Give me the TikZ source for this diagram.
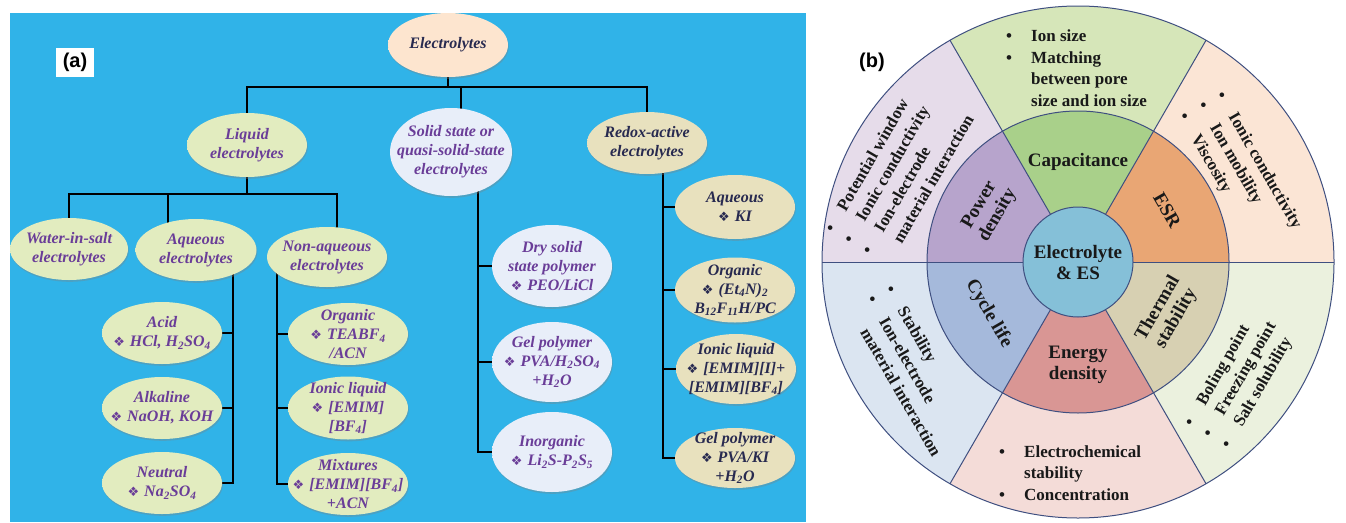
\documentclass[tikz,border=0pt]{standalone}
\usepackage{fontspec}
\setmainfont{Liberation Serif}
\newfontfamily\dejavu{DejaVu Sans}
\newfontfamily\arialf{Liberation Sans}
\usetikzlibrary{shapes.geometric,shadows,calc}
\pgfdeclarelayer{background}
\pgfsetlayers{background,main}
\definecolor{bgblue}{HTML}{30B3E8}
\definecolor{Ein}{HTML}{FDE5CF}\definecolor{Eout}{HTML}{F2B98C}
\definecolor{Gin}{HTML}{E2ECBF}\definecolor{Gout}{HTML}{BFD386}
\definecolor{Bin}{HTML}{E8EEF9}\definecolor{Bout}{HTML}{BCCAE8}
\definecolor{Tin}{HTML}{E8E1BE}\definecolor{Tout}{HTML}{C6B985}
\definecolor{purp}{HTML}{6A3D98}
\definecolor{navy}{HTML}{282A50}
\definecolor{bline}{HTML}{3F4F80}
\definecolor{capO}{HTML}{D6E6B9}\definecolor{capI}{HTML}{A9D08A}
\definecolor{esrO}{HTML}{FBE5D5}\definecolor{esrI}{HTML}{E9A674}
\definecolor{powO}{HTML}{E6DCEA}\definecolor{powI}{HTML}{B7A4CC}
\definecolor{cycO}{HTML}{DBE5F1}\definecolor{cycI}{HTML}{A5B9DB}
\definecolor{eneO}{HTML}{F4DCD8}\definecolor{eneI}{HTML}{D99694}
\definecolor{theO}{HTML}{EBF1DE}\definecolor{theI}{HTML}{D7D0B2}
\definecolor{cenC}{HTML}{85C0D8}
\pgfdeclareradialshading{shE}{\pgfpoint{0bp}{0bp}}{color(0bp)=(Ein); color(28bp)=(Ein); color(50bp)=(Eout)}
\pgfdeclareradialshading{shG}{\pgfpoint{0bp}{0bp}}{color(0bp)=(Gin); color(28bp)=(Gin); color(50bp)=(Gout)}
\pgfdeclareradialshading{shB}{\pgfpoint{0bp}{0bp}}{color(0bp)=(Bin); color(28bp)=(Bin); color(50bp)=(Bout)}
\pgfdeclareradialshading{shT}{\pgfpoint{0bp}{0bp}}{color(0bp)=(Tin); color(28bp)=(Tin); color(50bp)=(Tout)}
\newcommand\dia{{\dejavu\fontsize{13}{13}\selectfont\char"2756}\hspace{5pt}}
\newcommand\bl{\makebox[25pt][l]{\textbullet}}
\newcommand\ind{\hspace*{25pt}}
\newcommand\subs[1]{\textsubscript{#1}}
\tikzset{
  ell/.style={ellipse, inner sep=0pt, draw=none, drop shadow={shadow xshift=0.8pt, shadow yshift=-1.8pt, opacity=0.35}},
  ellG/.style={ell, shading=shG},
  ellB/.style={ell, shading=shB},
  ellT/.style={ell, shading=shT},
  tA/.style={font=\fontsize{16}{19}\selectfont\bfseries\itshape, align=center, inner sep=0pt},
  tP/.style={tA, text=purp},
  tN/.style={tA, text=navy},
  conn/.style={line width=1.6pt, black},
  bl/.style={line width=1pt, bline},
  ringtxt/.style={font=\fontsize{19}{21}\selectfont\bfseries, align=center, inner sep=0pt, text=black!90},
  outtxt/.style={font=\fontsize{17}{21.5}\selectfont\bfseries, align=left, inner sep=0pt, text=black!90, anchor=north west},
}
\begin{document}
\begin{tikzpicture}[x=1pt,y=-1pt]
\useasboundingbox (0,0) rectangle (1346,522);
% ---------- panel (a) ----------
\node[ell, shading=shE, minimum width=120pt, minimum height=64pt] (E) at (448,45) {};
\node[tN] (Et) at (E) {Electrolytes};
\node[ellG, minimum width=120pt, minimum height=64pt] (L) at (247,145) {};
\node[tP] (Lt) at (L) {Liquid\\electrolytes};
\node[ellB, minimum width=122pt, minimum height=88pt] (S) at (451,152) {};
\node[tP] (St) at (S) {Solid state or\\quasi-solid-state\\electrolytes};
\node[ellT, minimum width=120pt, minimum height=62pt] (R) at (647,143) {};
\node[tN] (Rt) at (R) {Redox-active\\electrolytes};
\node[ellG, minimum width=118pt, minimum height=62pt] (W) at (69,249) {};
\node[tP] (Wt) at (W) {Water-in-salt\\electrolytes};
\node[ellG, minimum width=121pt, minimum height=62pt] (Aq) at (196,250) {};
\node[tP] (Aqt) at (Aq) {Aqueous\\electrolytes};
\node[ellG, minimum width=120pt, minimum height=60pt] (NA) at (327,257) {};
\node[tP] (NAt) at (NA) {Non-aqueous\\electrolytes};
\node[ellG, minimum width=120pt, minimum height=62pt] (Acid) at (162,333) {};
\node[tP] (Acidt) at (Acid) {Acid\\\dia HCl, H\subs{2}SO\subs{4}};
\node[ellG, minimum width=120pt, minimum height=62pt] (Alk) at (162,408) {};
\node[tP] (Alkt) at (Alk) {Alkaline\\\dia NaOH, KOH};
\node[ellG, minimum width=120pt, minimum height=62pt] (Neu) at (162,483) {};
\node[tP] (Neut) at (Neu) {Neutral\\\dia Na\subs{2}SO\subs{4}};
\node[ellG, minimum width=120pt, minimum height=62pt] (Org) at (348,334) {};
\node[tP] (Orgt) at (Org) {Organic\\\dia TEABF\subs{4}\\/ACN};
\node[ellG, minimum width=120pt, minimum height=63pt] (IL) at (348,408) {};
\node[tP] (ILt) at (IL) {Ionic liquid\\\dia [EMIM]\\{}[BF\subs{4}]};
\node[ellG, minimum width=120pt, minimum height=62pt] (Mix) at (348,484) {};
\node[tP] (Mixt) at (Mix) {Mixtures\\\dia [EMIM][BF\subs{4}]\\+ACN};
\node[ellB, minimum width=120pt, minimum height=82pt] (Dry) at (552,266) {};
\node[tP] (Dryt) at (Dry) {Dry solid\\state polymer\\\dia PEO/LiCl};
\node[ellB, minimum width=120pt, minimum height=80pt] (Gel) at (552,362) {};
\node[tP] (Gelt) at (Gel) {Gel polymer\\\dia PVA/H\subs{2}SO\subs{4}\\+H\subs{2}O};
\node[ellB, minimum width=120pt, minimum height=80pt] (Ino) at (552,452) {};
\node[tP] (Inot) at (Ino) {Inorganic\\\dia Li\subs{2}S-P\subs{2}S\subs{5}};
\node[ellT, minimum width=120pt, minimum height=64pt] (KI) at (735,207) {};
\node[tN] (KIt) at (KI) {Aqueous\\\dia KI};
\node[ellT, minimum width=120pt, minimum height=65pt] (Org2) at (735,290) {};
\node[tN] (Org2t) at (Org2) {Organic\\\dia (Et\subs{4}N)\subs{2}\\B\subs{12}F\subs{11}H/PC};
\node[ellT, minimum width=120pt, minimum height=70pt] (IL2) at (736,369) {};
\node[tN] (IL2t) at (IL2) {Ionic liquid\\\dia [EMIM][I]+\\{}[EMIM][BF\subs{4}]};
\node[ellT, minimum width=120pt, minimum height=60pt] (Gel2) at (735,458) {};
\node[tN] (Gel2t) at (Gel2) {Gel polymer\\\dia PVA/KI\\+H\subs{2}O};
\node[fill=white, minimum width=38pt, minimum height=29pt, inner sep=0pt, font=\arialf\bfseries\fontsize{20}{20}\selectfont] (la) at (75,62) {(a)};
\coordinate (ty) at (0,87);
\coordinate (sx) at (461,0);
\coordinate (ly) at (0,194);
\coordinate (nax) at (337,0);
\coordinate (aqx) at (168,0);
\coordinate (aqv) at (233,0);
\coordinate (nav) at (277,0);
\coordinate (sv) at (478,0);
\coordinate (rv) at (663,0);
\begin{pgfonlayer}{background}
\fill[bgblue] (10,13) rectangle (806,522);
\draw[conn] (E) -- (E |- ty);
\draw[conn] (L) |- (ty -| R) -- (R);
\draw[conn] (sx |- ty) -- (sx |- S);
\draw[conn] (L) -- (L |- ly);
\draw[conn] (W) |- (nax |- ly) -- (nax |- NA);
\draw[conn] (aqx |- ly) -- (aqx |- Aq);
\draw[conn] (aqv |- Aq) -- (aqv |- Neu) -- (Neu);
\draw[conn] (aqv |- Acid) -- (Acid);
\draw[conn] (aqv |- Alk) -- (Alk);
\draw[conn] (nav |- NA) -- (nav |- Mix) -- (Mix);
\draw[conn] (nav |- Org) -- (Org);
\draw[conn] (nav |- IL) -- (IL);
\draw[conn] (sv |- S) -- (sv |- Ino) -- (Ino);
\draw[conn] (sv |- Dry) -- (Dry);
\draw[conn] (sv |- Gel) -- (Gel);
\draw[conn] (rv |- R) -- (rv |- Gel2) -- (Gel2);
\draw[conn] (rv |- KI) -- (KI);
\draw[conn] (rv |- Org2) -- (Org2);
\draw[conn] (rv |- IL2) -- (IL2);
\end{pgfonlayer}
% ---------- panel (b) ----------
\coordinate (C) at (1078,262);
\fill[capO] (C) -- ++(-60:256) arc[start angle=-60, end angle=-120, radius=256] -- cycle;
\fill[esrO] (C) -- ++(0:256) arc[start angle=0, end angle=-60, radius=256] -- cycle;
\fill[powO] (C) -- ++(-120:256) arc[start angle=-120, end angle=-180, radius=256] -- cycle;
\fill[cycO] (C) -- ++(180:256) arc[start angle=180, end angle=120, radius=256] -- cycle;
\fill[eneO] (C) -- ++(120:256) arc[start angle=120, end angle=60, radius=256] -- cycle;
\fill[theO] (C) -- ++(60:256) arc[start angle=60, end angle=0, radius=256] -- cycle;
\fill[capI] (C) -- ++(-60:151) arc[start angle=-60, end angle=-120, radius=151] -- cycle;
\fill[esrI] (C) -- ++(0:151) arc[start angle=0, end angle=-60, radius=151] -- cycle;
\fill[powI] (C) -- ++(-120:151) arc[start angle=-120, end angle=-180, radius=151] -- cycle;
\fill[cycI] (C) -- ++(180:151) arc[start angle=180, end angle=120, radius=151] -- cycle;
\fill[eneI] (C) -- ++(120:151) arc[start angle=120, end angle=60, radius=151] -- cycle;
\fill[theI] (C) -- ++(60:151) arc[start angle=60, end angle=0, radius=151] -- cycle;
\foreach \a in {0,-60,-120,180,120,60}
  \draw[bl] ($(C)+(\a:55)$) -- ($(C)+(\a:256)$);
\draw[bl] (C) circle[radius=256];
\draw[bl] (C) circle[radius=151];
\node[circle, minimum size=110pt, inner sep=0pt, fill=cenC, draw=bline, line width=1pt, ringtxt] (cen) at (C) {Electrolyte\\\& ES};
\node[ringtxt] (capT) at ($(C)+(-90:100)$) {Capacitance};
\node[ringtxt, rotate=-60] (esrT) at ($(C)+(-30:103)$) {ESR};
\node[ringtxt, rotate=60] (powT) at ($(C)+(-150:103)$) {Power\\density};
\node[ringtxt, rotate=-60] (cycT) at ($(C)+(150:103)$) {Cycle life};
\node[ringtxt] (eneT) at ($(C)+(90:103)$) {Energy\\density};
\node[ringtxt, rotate=60] (theT) at ($(C)+(30:103)$) {Thermal\\stability};
\node[outtxt] (capO) at (1006,30) {\bl Ion size\\\bl Matching\\\ind between pore\\\ind size and ion size};
\node[outtxt] (eneO) at (999,445) {\bl Electrochemical\\\ind stability\\\bl Concentration};
\node[outtxt, rotate=60] (powO) at (823,228) {\bl Potential window\\\bl Ionic conductivity\\\bl Ion-electrode\\\ind material interaction};
\node[outtxt, rotate=-60] (cycO) at (895,283) {\bl Stability\\\bl Ion-electrode\\\ind material interaction};
\node[outtxt, rotate=-60] (esrO) at (1226,89) {\bl Ionic conductivity\\\bl Ion mobility\\\bl Viscosity};
\node[outtxt, rotate=60] (theO) at (1182,422) {\bl Boling point\\\bl Freezing point\\\bl Salt solubility};
\node[font=\arialf\bfseries\fontsize{20}{20}\selectfont, inner sep=0pt] (lb) at (872,62) {(b)};
\end{tikzpicture}
\end{document}
